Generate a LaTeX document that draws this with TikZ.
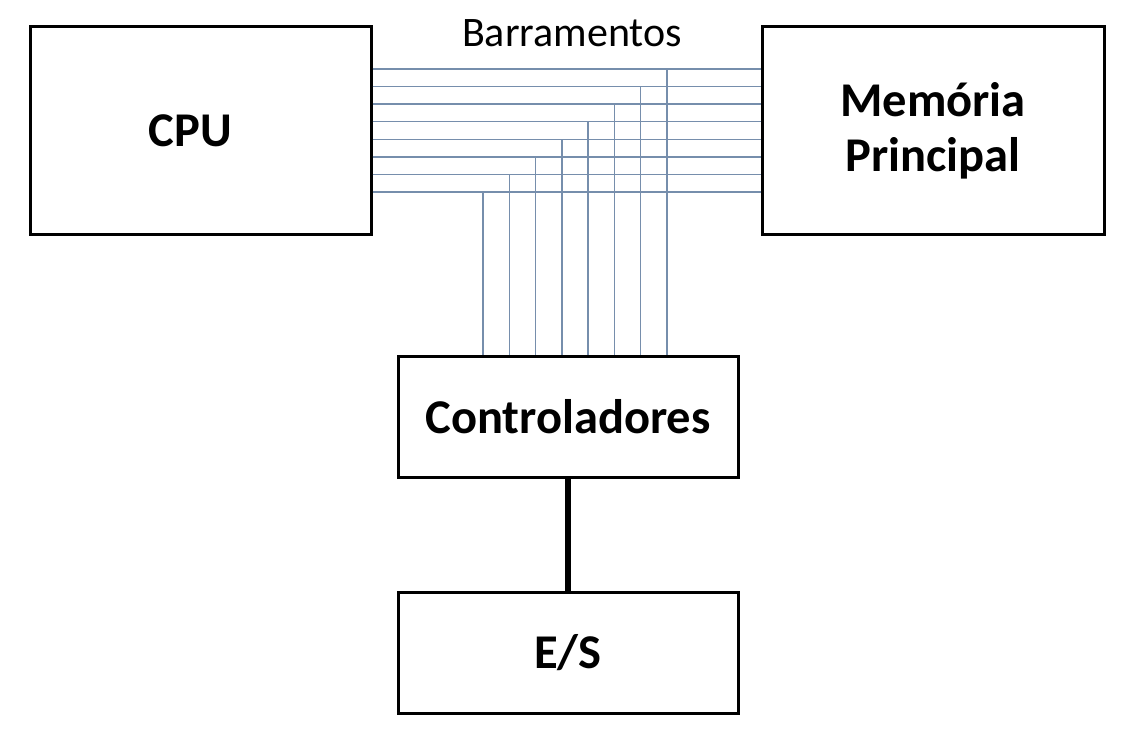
\documentclass[tikz,border=0pt]{standalone}
\usepackage{fontspec}
\setmainfont{Carlito}
\definecolor{buscolor}{RGB}{118,142,172}
\tikzset{
    unit/.style={draw,line width=3pt,rectangle,inner sep=0pt,
        font=\fontsize{48.5}{55}\selectfont\bfseries},
    busline/.style={color=buscolor,line width=1.4pt},
}
\begin{document}
\begin{tikzpicture}[x=1pt,y=-1pt]
    \useasboundingbox (0,0) rectangle (1130,741);
    \node[unit,minimum width=341,minimum height=207] (cpu) at (200.5,130.5) {CPU\kern20pt};
    \node[unit,minimum width=342,minimum height=207,align=center] (mem) at (933,130.5) {Memória\\Principal};
    \node[unit,minimum width=340,minimum height=121] (ctrl) at (568,416.5) {Controladores};
    \node[unit,minimum width=340,minimum height=121] (es) at (568,652.5) {E/S};
    \node[font=\fontsize{42}{42}\selectfont] (buslabel) at (572,33) {Barramentos};
    % linhas do barramento
    \foreach \i in {0,...,7}{
        \pgfmathsetmacro\by{69+17.57*\i}
        \pgfmathsetmacro\bx{667-26.29*\i}
        \draw[busline] (cpu.east |- 0,\by) -- (mem.west |- 0,\by);
        \draw[busline] (\bx,\by) -- (\bx,0 |- ctrl.north);
    }
    \draw[line width=6.5pt] (ctrl) -- (es);
\end{tikzpicture}
\end{document}
